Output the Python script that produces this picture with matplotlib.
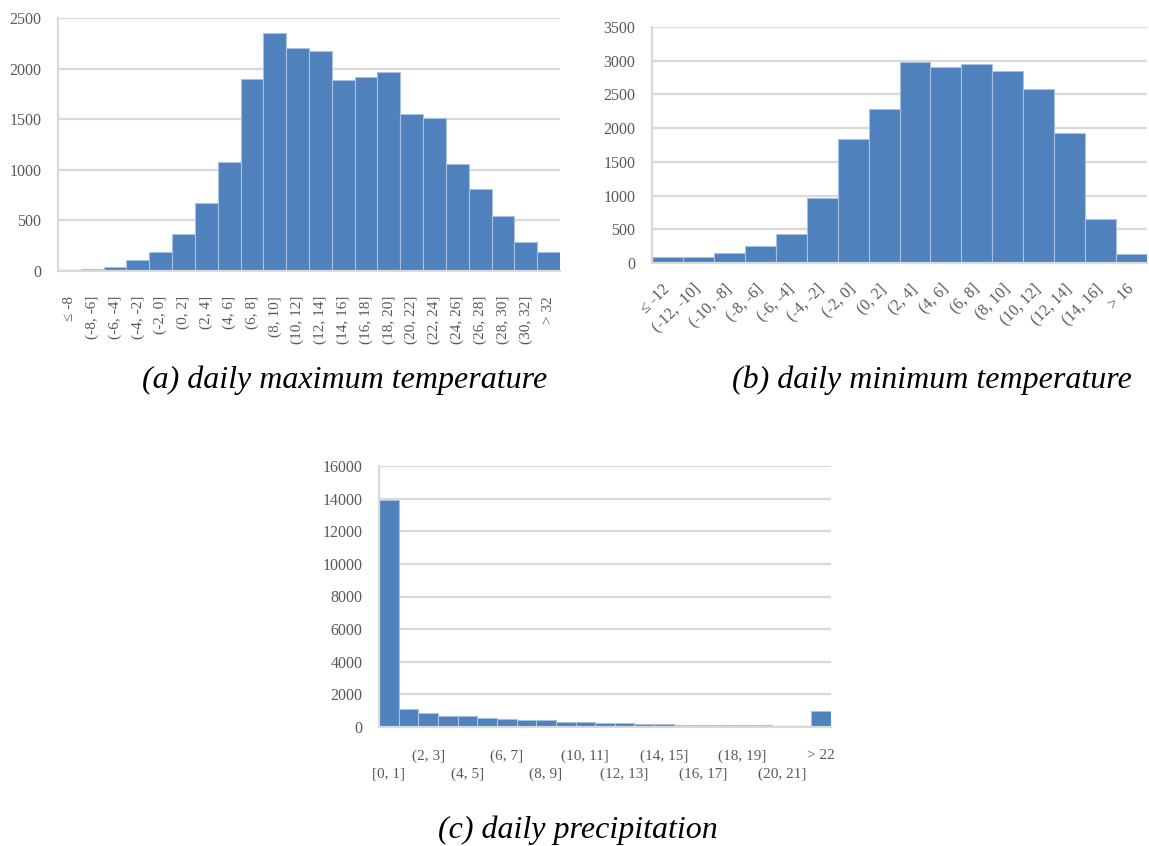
import matplotlib
matplotlib.use("Agg")
import matplotlib.pyplot as plt
import numpy as np

# ---------------- data ----------------
tmax_labels = ["≤ -8", "(-8, -6]", "(-6, -4]", "(-4, -2]", "(-2, 0]", "(0, 2]", "(2, 4]",
               "(4, 6]", "(6, 8]", "(8, 10]", "(10, 12]", "(12, 14]", "(14, 16]", "(16, 18]",
               "(18, 20]", "(20, 22]", "(22, 24]", "(24, 26]", "(26, 28]", "(28, 30]",
               "(30, 32]", "> 32"]
tmax_counts = [12, 22, 35, 108, 190, 362, 670, 1080, 1900, 2352, 2206, 2172, 1888, 1916,
               1962, 1548, 1514, 1056, 815, 545, 288, 185]

tmin_labels = ["≤ -12", "(-12, -10]", "(-10, -8]", "(-8, -6]", "(-6, -4]", "(-4, -2]",
               "(-2, 0]", "(0, 2]", "(2, 4]", "(4, 6]", "(6, 8]", "(8, 10]", "(10, 12]",
               "(12, 14]", "(14, 16]", "> 16"]
tmin_counts = [88, 88, 142, 255, 426, 964, 1835, 2291, 2976, 2912, 2947, 2854, 2584,
               1924, 651, 127]

prcp_labels = ["[0, 1]", "(1, 2]", "(2, 3]", "(3, 4]", "(4, 5]", "(5, 6]", "(6, 7]",
               "(7, 8]", "(8, 9]", "(9, 10]", "(10, 11]", "(11, 12]", "(12, 13]",
               "(13, 14]", "(14, 15]", "(15, 16]", "(16, 17]", "(17, 18]", "(18, 19]",
               "(19, 20]", "(20, 21]", "(21, 22]", "> 22"]
prcp_counts = [13900, 1130, 870, 700, 650, 560, 470, 410, 410, 330, 290, 240, 230, 190,
               190, 140, 140, 130, 100, 100, 70, 60, 1000]

# ---------------- style ----------------
BAR = "#4F81BD"
GRID = "#D9D9D9"
TICK = "#595959"
SERIF = ["Liberation Serif", "DejaVu Serif"]
W, H = 1149, 846

fig = plt.figure(figsize=(W / 100, H / 100), dpi=100)


def px_axes(left, top, right, bottom):
    return fig.add_axes([left / W, 1 - bottom / H, (right - left) / W, (bottom - top) / H])


def style(ax, n, ymax, ystep):
    ax.set_xlim(-0.5, n - 0.5)
    ax.set_ylim(0, ymax)
    ax.set_yticks(np.arange(0, ymax + 1, ystep))
    ax.yaxis.grid(True, color=GRID, lw=1.6)
    ax.set_axisbelow(True)
    for s in ["top", "right"]:
        ax.spines[s].set_visible(False)
    ax.spines["left"].set_color(GRID)
    ax.spines["left"].set_linewidth(1.6)
    ax.spines["bottom"].set_color(GRID)
    ax.spines["bottom"].set_linewidth(1.6)
    ax.tick_params(axis="both", length=0, colors=TICK)
    ax.tick_params(axis="y", pad=12)
    for t in ax.get_yticklabels():
        t.set_fontfamily(SERIF)
        t.set_fontsize(11.5)


def bars(ax, counts):
    x = np.arange(len(counts))
    ax.bar(x, counts, width=1.0, color=BAR, edgecolor="#A9C1E0", linewidth=0.8)


TITLE = dict(ha="center", va="center", fontfamily=SERIF, fontstyle="italic", fontsize=23)

# (a) daily maximum temperature
axa = px_axes(58, 18, 560, 271)
bars(axa, tmax_counts)
style(axa, len(tmax_counts), 2500, 500)
axa.set_xticks(np.arange(len(tmax_labels)))
axa.set_xticklabels(tmax_labels, rotation=90, ha="right", va="center",
                    rotation_mode="anchor", fontfamily=SERIF, fontsize=11, color=TICK)
axa.tick_params(axis="x", pad=18)
fig.text(345 / W, 1 - 380 / H, "(a) daily maximum temperature", **TITLE)

# (b) daily minimum temperature
axb = px_axes(652, 27, 1147, 263)
bars(axb, tmin_counts)
style(axb, len(tmin_counts), 3500, 500)
axb.set_xticks(np.arange(len(tmin_labels)))
axb.set_xticklabels(tmin_labels, rotation=45, ha="right", va="center",
                    rotation_mode="anchor", fontfamily=SERIF, fontsize=11.5, color=TICK)
axb.tick_params(axis="x", pad=17)
fig.text(932 / W, 1 - 380 / H, "(b) daily minimum temperature", **TITLE)

# (c) daily precipitation
axc = px_axes(379, 466, 831, 727)
bars(axc, prcp_counts)
style(axc, len(prcp_counts), 16000, 2000)
idx = np.arange(0, len(prcp_labels), 2)
axc.set_xticks(idx)
axc.set_xticklabels([prcp_labels[i] for i in idx], fontfamily=SERIF, fontsize=11,
                    color=TICK)
for k, tick in enumerate(axc.xaxis.get_major_ticks()):
    tick.set_pad(16 if k % 2 == 1 else 29)
fig.text(578 / W, 1 - 830 / H, "(c) daily precipitation", **TITLE)

fig.savefig("out.png", dpi=100, facecolor="white")
